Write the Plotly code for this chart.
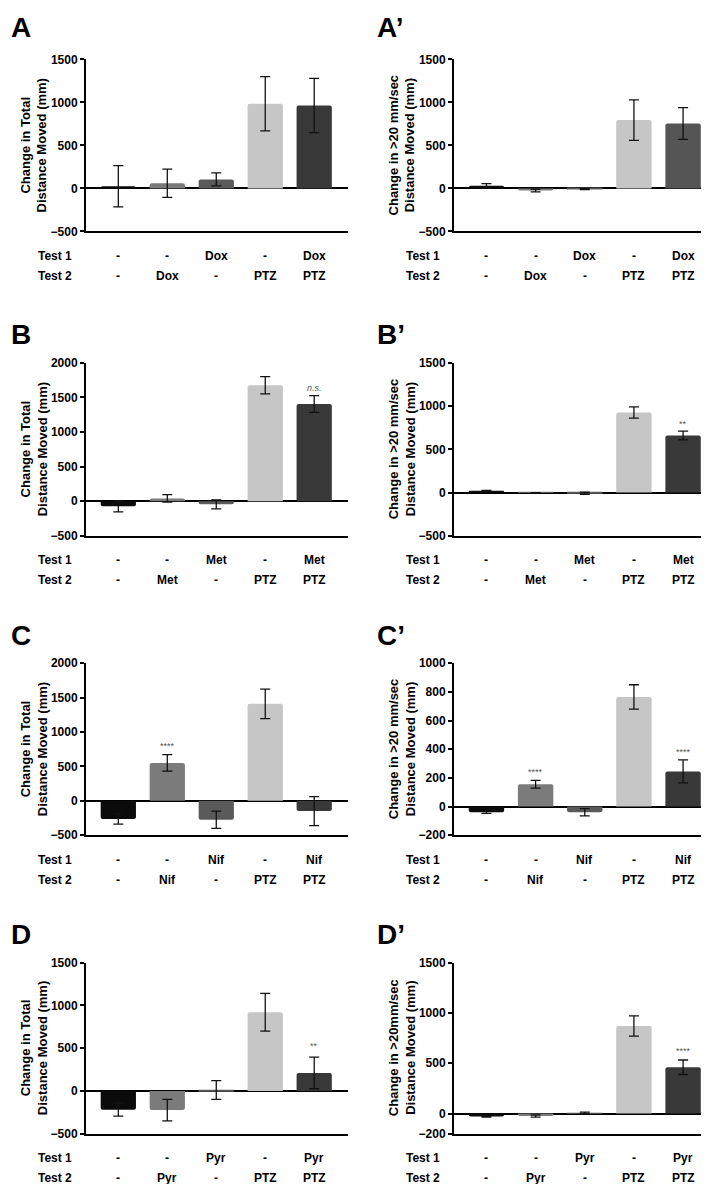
import plotly.graph_objects as go

# group labels (Test 1 / Test 2 rows) for each drug
drugs = ['Dox', 'Met', 'Nif', 'Pyr']

def test1(d):
    return ['-', '-', d, '-', d]

def test2(d):
    return ['-', d, '-', 'PTZ', 'PTZ']

# bar heights (mean) and error (SEM)
A_total = [25, 60, 105, 985, 965]
A_total_err = [240, 165, 75, 315, 315]
A_fast = [30, -25, -8, 795, 755]
A_fast_err = [25, 15, 6, 235, 185]

B_total = [-75, 40, -45, 1675, 1405]
B_total_err = [80, 55, 65, 125, 120]
B_fast = [20, -3, -8, 925, 660]
B_fast_err = [5, 3, 12, 65, 50]

C_total = [-265, 550, -275, 1410, -150]
C_total_err = [75, 120, 125, 215, 210]
C_fast = [-40, 155, -40, 765, 245]
C_fast_err = [8, 27, 25, 85, 80]

D_total = [-220, -225, 10, 920, 210]
D_total_err = [75, 125, 110, 220, 185]
D_fast = [-30, -25, 5, 870, 460]
D_fast_err = [5, 12, 8, 100, 72]

# significance marks: (bar index, text, y value)
A_total_sig = []
A_fast_sig = []
B_total_sig = [(4, 'n.s.', 1640)]
B_fast_sig = [(4, '**', 790)]
C_total_sig = [(1, '****', 800)]
C_fast_sig = [(1, '****', 240), (4, '****', 380)]
D_total_sig = [(4, '**', 520)]
D_fast_sig = [(4, '****', 625)]

# axis ticks
ticks_1500 = [-500, 0, 500, 1000, 1500]
ticks_2000 = [-500, 0, 500, 1000, 1500, 2000]
ticks_1000 = [-200, 0, 200, 400, 600, 800, 1000]
ticks_D2 = [-200, 0, 500, 1000, 1500]

title_total = 'Change in Total<br>Distance Moved (mm)'
title_fast = 'Change in >20 mm/sec<br>Distance Moved (mm)'
title_fastD = 'Change in >20mm/sec<br>Distance Moved (mm)'

colors = ['#0b0b0b', '#7b7b7b', '#5a5a5a', '#c6c6c6', '#393939']
colors_A2 = ['#0b0b0b', '#7b7b7b', '#5a5a5a', '#c6c6c6', '#555555']

W, H = 709, 1184
FONT = 'Liberation Sans, Arial, sans-serif'

# (label, values, errors, sig, drug, ticks, title, colors, column, axis top px, axis bottom px, label y px)
panels = [
    ('A', A_total, A_total_err, A_total_sig, 'Dox', ticks_1500, title_total, colors, 0, 45, 219, 13),
    ('A\u2019', A_fast, A_fast_err, A_fast_sig, 'Dox', ticks_1500, title_fast, colors_A2, 1, 45, 219, 13),
    ('B', B_total, B_total_err, B_total_sig, 'Met', ticks_2000, title_total, colors, 0, 352, 527, 323),
    ('B\u2019', B_fast, B_fast_err, B_fast_sig, 'Met', ticks_1500, title_fast, colors, 1, 352, 527, 323),
    ('C', C_total, C_total_err, C_total_sig, 'Nif', ticks_2000, title_total, colors, 0, 656, 830, 628),
    ('C\u2019', C_fast, C_fast_err, C_fast_sig, 'Nif', ticks_1000, title_fast, colors, 1, 656, 830, 628),
    ('D', D_total, D_total_err, D_total_sig, 'Pyr', ticks_1500, title_total, colors, 0, 959, 1132, 930),
    ('D\u2019', D_fast, D_fast_err, D_fast_sig, 'Pyr', ticks_D2, title_fastD, colors, 1, 959, 1132, 930),
]

col_px = [(78, 340), (446, 709)]

fig = go.Figure()
annotations = []
layout = {}

for i, (lab, vals, errs, sig, drug, ticks, ytitle, cols, col, top, bot, laby) in enumerate(panels):
    n = '' if i == 0 else str(i + 1)
    xa, ya = 'x' + n, 'y' + n
    x0, x1 = col_px[col]

    fig.add_trace(go.Bar(
        x=list(range(5)), y=vals,
        marker=dict(color=cols, line=dict(width=0)),
        error_y=dict(type='data', array=errs, color='#111111', thickness=1.3, width=5),
        width=0.72, xaxis=xa, yaxis=ya, showlegend=False
    ))

    layout['xaxis' + n] = dict(
        domain=[x0 / W, min(x1 / W, 1.0)], range=[-0.66, 4.69], anchor=ya,
        showline=True, linecolor='black', linewidth=2, showticklabels=False,
        ticks='', showgrid=False, zeroline=False, fixedrange=True
    )
    layout['yaxis' + n] = dict(
        domain=[1 - bot / H, 1 - top / H], range=[ticks[0], ticks[-1]], anchor=xa,
        showline=True, linecolor='black', linewidth=2, ticks='outside', ticklen=4,
        tickwidth=2, tickcolor='black', tickvals=ticks,
        tickfont=dict(family=FONT, size=12, color='black', weight='bold'),
        showgrid=False, zeroline=True, zerolinecolor='black', zerolinewidth=2
    )

    # panel letter
    annotations.append(dict(
        text='<b>%s</b>' % lab, xref='paper', yref='paper',
        x=(1 if col == 0 else 367) / W, y=1 - laby / H, xanchor='left', yanchor='middle',
        showarrow=False, font=dict(family=FONT, size=28, color='black')
    ))
    # y title
    annotations.append(dict(
        text='<b>%s</b>' % ytitle, xref='paper', yref='paper',
        x=(x0 - 52) / W, y=1 - (top + bot) / 2 / H, xanchor='center', yanchor='middle',
        textangle=-90, showarrow=False,
        font=dict(family=FONT, size=13, color='black')
    ))
    # Test rows
    for row, (name, labels) in enumerate([('Test 1', test1(drug)), ('Test 2', test2(drug))]):
        ypx = bot + 25 + 20 * row
        annotations.append(dict(
            text='<b>%s</b>' % name, xref='paper', yref='paper',
            x=(x0 - 31) / W, y=1 - ypx / H, xanchor='center', yanchor='middle',
            showarrow=False, font=dict(family=FONT, size=12, color='black')
        ))
        for k, t in enumerate(labels):
            annotations.append(dict(
                text='<b>%s</b>' % t, xref=xa, yref='paper',
                x=k, y=1 - ypx / H, xanchor='center', yanchor='middle',
                showarrow=False, font=dict(family=FONT, size=12, color='black')
            ))
    # significance marks
    for k, t, yv in sig:
        txt = '<i>%s</i>' % t if t == 'n.s.' else t
        annotations.append(dict(
            text=txt, xref=xa, yref=ya, x=k, y=yv, xanchor='center', yanchor='middle',
            showarrow=False, font=dict(family=FONT, size=9, color='#555555')
        ))

fig.update_layout(
    width=W, height=H,
    margin=dict(l=0, r=0, t=0, b=0),
    paper_bgcolor='white', plot_bgcolor='white',
    barcornerradius=2,
    annotations=annotations,
    **layout
)

fig.write_html('out.html')
